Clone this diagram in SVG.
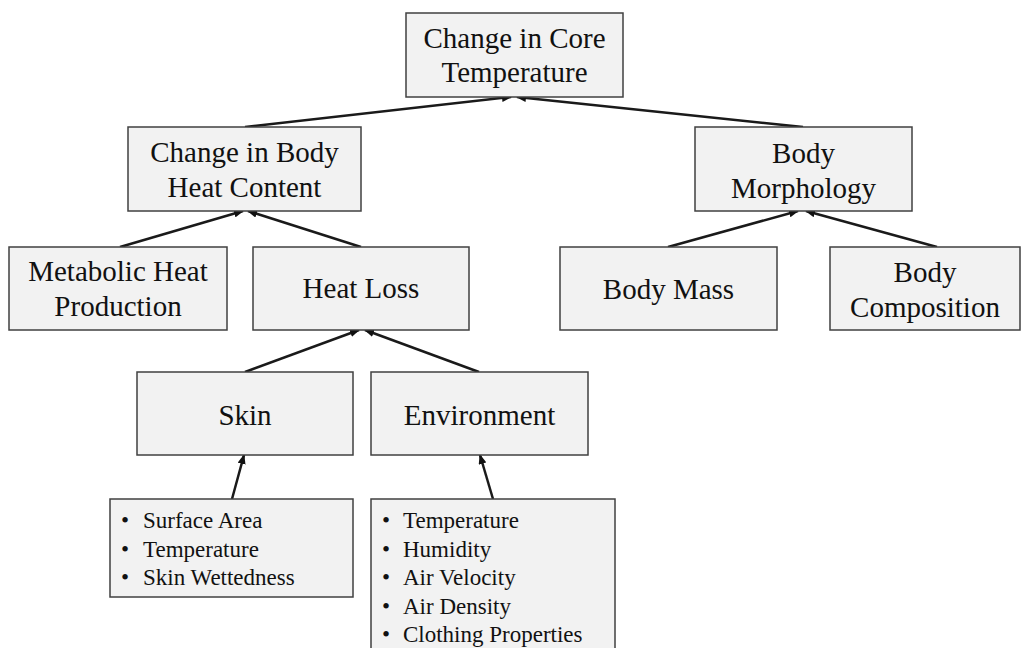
<svg xmlns="http://www.w3.org/2000/svg" width="1033" height="648" viewBox="0 0 1033 648">
<style>
.box{fill:#f2f2f2;stroke:#404040;stroke-width:1.5}
.t{font-family:"Liberation Serif","Times New Roman",serif;font-size:29px;fill:#111;text-anchor:middle}
.l{font-family:"Liberation Serif","Times New Roman",serif;font-size:23px;fill:#111}
.c{stroke:#1a1a1a;stroke-width:2.5;fill:none;marker-end:url(#ah)}
</style>
<defs>
<marker id="ah" viewBox="0 0 10 8" refX="9" refY="4" markerWidth="4" markerHeight="3.2" orient="auto" markerUnits="strokeWidth">
<path d="M0,0 L10,4 L0,8 Z" fill="#111"/>
</marker>
</defs>
<rect width="1033" height="648" fill="#fff"/>
<g id="connectors">
<line class="c" x1="245" y1="127" x2="511" y2="97"/>
<line class="c" x1="803" y1="127" x2="517" y2="97"/>
<line class="c" x1="120" y1="247" x2="243" y2="211"/>
<line class="c" x1="361" y1="247" x2="248" y2="211"/>
<line class="c" x1="668" y1="247" x2="798" y2="211"/>
<line class="c" x1="937" y1="247" x2="806" y2="211"/>
<line class="c" x1="245" y1="372" x2="359" y2="330"/>
<line class="c" x1="479" y1="372" x2="365" y2="330"/>
<line class="c" x1="232" y1="499" x2="244" y2="455"/>
<line class="c" x1="493" y1="499" x2="480" y2="455"/>
</g>
<g id="core">
<rect class="box" x="406" y="13" width="217" height="84"/>
<text class="t" x="514.5" y="48">Change in Core</text>
<text class="t" x="514.5" y="82">Temperature</text>
</g>
<g id="heatContent">
<rect class="box" x="128" y="127" width="233" height="84"/>
<text class="t" x="244.5" y="162">Change in Body</text>
<text class="t" x="244.5" y="197">Heat Content</text>
</g>
<g id="morphology">
<rect class="box" x="695" y="127" width="217" height="84"/>
<text class="t" x="803.5" y="163">Body</text>
<text class="t" x="803.5" y="198">Morphology</text>
</g>
<g id="metabolic">
<rect class="box" x="9" y="247" width="218" height="83"/>
<text class="t" x="118" y="281">Metabolic Heat</text>
<text class="t" x="118" y="316">Production</text>
</g>
<g id="heatLoss">
<rect class="box" x="253" y="247" width="216" height="83"/>
<text class="t" x="361" y="298">Heat Loss</text>
</g>
<g id="bodyMass">
<rect class="box" x="560" y="247" width="217" height="83"/>
<text class="t" x="668.5" y="299">Body Mass</text>
</g>
<g id="bodyComp">
<rect class="box" x="830" y="247" width="190" height="83"/>
<text class="t" x="925" y="282">Body</text>
<text class="t" x="925" y="317">Composition</text>
</g>
<g id="skin">
<rect class="box" x="137" y="372" width="216" height="83"/>
<text class="t" x="245" y="425">Skin</text>
</g>
<g id="environment">
<rect class="box" x="371" y="372" width="217" height="83"/>
<text class="t" x="479.5" y="425">Environment</text>
</g>
<g id="skinList">
<rect class="box" x="110" y="499" width="243" height="98"/>
<text class="l" x="121" y="528">•</text><text class="l" x="143" y="528">Surface Area</text>
<text class="l" x="121" y="557">•</text><text class="l" x="143" y="557">Temperature</text>
<text class="l" x="121" y="585">•</text><text class="l" x="143" y="585">Skin Wettedness</text>
</g>
<g id="envList">
<rect class="box" x="371" y="499" width="244" height="160"/>
<text class="l" x="382" y="528">•</text><text class="l" x="403" y="528">Temperature</text>
<text class="l" x="382" y="557">•</text><text class="l" x="403" y="557">Humidity</text>
<text class="l" x="382" y="585">•</text><text class="l" x="403" y="585">Air Velocity</text>
<text class="l" x="382" y="614">•</text><text class="l" x="403" y="614">Air Density</text>
<text class="l" x="382" y="642">•</text><text class="l" x="403" y="642">Clothing Properties</text>
</g>
</svg>
